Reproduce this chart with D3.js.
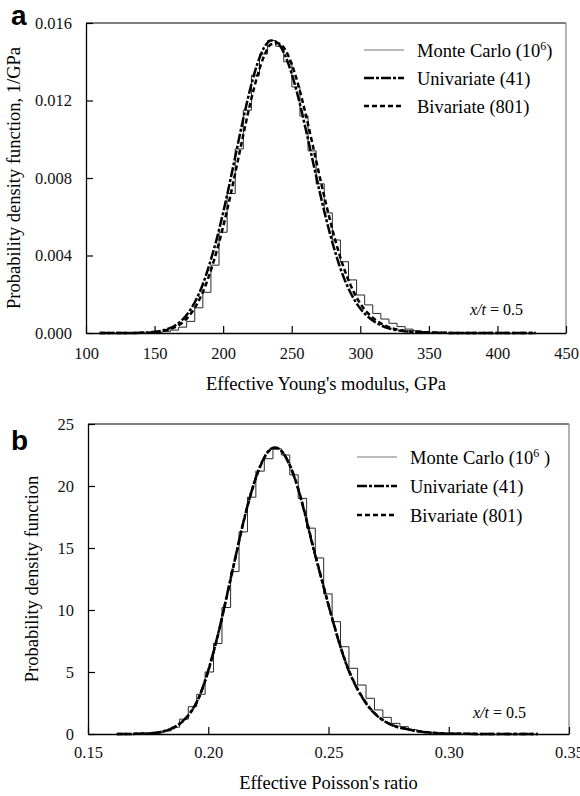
<!DOCTYPE html>
<html>
<head>
<meta charset="utf-8">
<script src="https://cdn.jsdelivr.net/npm/d3@7"></script>
<style>
  body { margin: 0; background: #fff; }
  svg { display: block; }
</style>
</head>
<body>
<svg width="580" height="796"></svg>
<script>
// ---- panel a : effective Young's modulus ----
var youngX = [110, 120, 130, 140, 150, 155, 160, 165, 170, 175, 180, 185, 190, 195, 200, 205, 210, 215, 220, 225, 230, 235,
  240, 245, 250, 255, 260, 265, 270, 275, 280, 285, 290, 295, 300, 305, 310, 315, 320, 325, 330, 340, 350, 360, 380, 400, 428];
var youngUni = [0, 0, 0.000002, 0.000012, 0.00006, 0.00012, 0.00022, 0.00039, 0.00066, 0.00108, 0.00168, 0.00248, 0.00354,
  0.00477, 0.00621, 0.00781, 0.0095, 0.01116, 0.01267, 0.0139, 0.01475, 0.0151, 0.01495, 0.01436, 0.01338, 0.0121, 0.01059,
  0.009, 0.00741, 0.00592, 0.00459, 0.00344, 0.00251, 0.0018, 0.00126, 0.00088, 0.0006, 0.0004, 0.00026, 0.00017, 0.00011,
  0.00005, 0.00002, 0.00001, 0, 0, 0];
var youngBiv = [0, 0, 0.000001, 0.000008, 0.00004, 0.00009, 0.00017, 0.0003, 0.00052, 0.00087, 0.00138, 0.00208, 0.00301,
  0.00415, 0.00549, 0.007, 0.00865, 0.01033, 0.01192, 0.01328, 0.01432, 0.0149, 0.01495, 0.01465, 0.01387, 0.01275, 0.01135,
  0.0098, 0.0082, 0.00667, 0.00525, 0.004, 0.00297, 0.00215, 0.00152, 0.00106, 0.00074, 0.0005, 0.00033, 0.00021, 0.00014,
  0.00006, 0.00003, 0.00001, 0, 0, 0];
var youngBinEdges = [149.8, 155.7, 161.6, 167.5, 173.4, 179.3, 185.2, 191.1, 197.0, 202.9, 208.8, 214.7, 220.6, 226.5, 232.4,
  238.3, 244.2, 250.1, 256.0, 261.9, 267.8, 273.7, 279.6, 285.5, 291.4, 297.3, 303.2, 309.1, 315.0, 320.9, 326.8, 332.7,
  338.6, 344.5, 350.4, 356.3, 362.2];
var youngBinValues = [0.00003, 0.00007, 0.00015, 0.0003, 0.0006, 0.0013, 0.0021, 0.0035, 0.0052, 0.0072, 0.0095, 0.0115,
  0.0133, 0.0144, 0.0151, 0.0148, 0.0140, 0.0127, 0.0112, 0.0094, 0.0077, 0.0062, 0.0048, 0.00368, 0.00274, 0.00196,
  0.00145, 0.00101, 0.00072, 0.0005, 0.00033, 0.0002, 0.00012, 0.00007, 0.00004, 0.00002];
var youngTicksX = [100, 150, 200, 250, 300, 350, 400, 450];
var youngTicksY = [0, 0.004, 0.008, 0.012, 0.016];

// ---- panel b : effective Poisson's ratio ----
var poissonX = [0.162, 0.166, 0.170, 0.174, 0.178, 0.181, 0.184, 0.187, 0.190, 0.193, 0.196, 0.199, 0.202, 0.205, 0.208,
  0.211, 0.214, 0.217, 0.220, 0.223, 0.226, 0.228, 0.231, 0.234, 0.237, 0.240, 0.243, 0.246, 0.249, 0.252, 0.255, 0.258,
  0.261, 0.264, 0.267, 0.270, 0.274, 0.278, 0.282, 0.286, 0.290, 0.295, 0.300, 0.310, 0.320, 0.337];
var poissonUni = [0, 0.005, 0.015, 0.04, 0.10, 0.2, 0.38, 0.68, 1.15, 1.85, 2.9, 4.5, 6.5, 8.8, 11.4, 14.0, 16.6, 18.9,
  20.8, 22.2, 23.0, 23.1, 22.7, 21.6, 20.0, 17.9, 15.5, 13.3, 11.1, 8.98, 7.0, 5.3, 4.0, 2.95, 2.1, 1.5, 0.95, 0.6, 0.42,
  0.26, 0.15, 0.07, 0.03, 0.01, 0.003, 0];
var poissonBiv = [0, 0.004, 0.013, 0.036, 0.09, 0.19, 0.36, 0.66, 1.12, 1.82, 2.88, 4.45, 6.45, 8.75, 11.35, 13.95, 16.55,
  18.85, 20.75, 22.15, 22.95, 23.05, 22.7, 21.65, 20.05, 17.95, 15.6, 13.35, 11.15, 9.0, 7.05, 5.35, 4.05, 3.0, 2.15, 1.52,
  0.97, 0.62, 0.43, 0.27, 0.16, 0.08, 0.035, 0.012, 0.004, 0];
var poissonBinEdges = [0.1776, 0.1811, 0.1846, 0.1881, 0.1917, 0.1952, 0.1987, 0.2022, 0.2057, 0.2093, 0.2128, 0.2163,
  0.2198, 0.2233, 0.2269, 0.2304, 0.2339, 0.2374, 0.2409, 0.2445, 0.2480, 0.2515, 0.2550, 0.2585, 0.2621, 0.2656, 0.2691,
  0.2726, 0.2761, 0.2797, 0.2832, 0.2867, 0.2902, 0.2937, 0.2973, 0.3008, 0.3043];
var poissonBinValues = [0.1, 0.25, 0.55, 1.2, 2.2, 3.2, 5.0, 7.3, 10.2, 13.1, 16.3, 19.1, 21.2, 22.2, 23.0, 22.5, 20.9,
  19.0, 16.6, 14.2, 11.3, 9.06, 7.04, 5.3, 3.95, 2.88, 1.94, 1.34, 0.86, 0.59, 0.35, 0.2, 0.11, 0.06, 0.03, 0.01];
var poissonTicksX = [0.15, 0.20, 0.25, 0.30, 0.35];
var poissonTicksY = [0, 5, 10, 15, 20, 25];

var legendNames = ["Monte Carlo (10", "Univariate (41)", "Bivariate (801)"];

document.addEventListener("DOMContentLoaded", function () {

  var serif = '"Liberation Serif", "Times New Roman", Times, serif';
  var svg = d3.select("svg");

  drawPanel({
    letter: "a", letterY: 25,
    left: 86, right: 566, top: 23, bottom: 333,
    xDomain: [100, 450], yDomain: [0, 0.016],
    xTicks: youngTicksX, yTicks: youngTicksY,
    xFormat: d3.format("d"), yFormat: d3.format(".3f"),
    xPad: 14, yPad: 14,
    xs: youngX, uni: youngUni, biv: youngBiv,
    edges: youngBinEdges, bins: youngBinValues,
    xTitle: "Effective Young's modulus, GPa", xTitleY: 390,
    yTitle: "Probability density function, 1/GPa", yTitleX: 20,
    legX: 364, legY: 50, legGap: 28, supTail: ")",
    noteX: 470, noteY: 315
  });

  drawPanel({
    letter: "b", letterY: 450,
    left: 88, right: 569, top: 424, bottom: 734,
    xDomain: [0.15, 0.35], yDomain: [0, 25],
    xTicks: poissonTicksX, yTicks: poissonTicksY,
    xFormat: d3.format(".2f"), yFormat: d3.format("d"),
    xPad: 12.5, yPad: 14,
    xs: poissonX, uni: poissonUni, biv: poissonBiv,
    edges: poissonBinEdges, bins: poissonBinValues,
    xTitle: "Effective Poisson's ratio", xTitleY: 789,
    yTitle: "Probability density function", yTitleX: 38,
    legX: 357, legY: 457, legGap: 29, supTail: " )",
    noteX: 473, noteY: 718
  });

  function drawPanel(p) {
    var x = d3.scaleLinear().domain(p.xDomain).range([p.left, p.right]);
    var y = d3.scaleLinear().domain(p.yDomain).range([p.bottom, p.top]);
    var g = svg.append("g");

    // top and right frame
    g.append("line")
      .attr("x1", p.left).attr("x2", p.right)
      .attr("y1", p.top).attr("y2", p.top)
      .attr("stroke", "#000").attr("stroke-width", 1.2);
    g.append("line")
      .attr("x1", p.right).attr("x2", p.right)
      .attr("y1", p.top).attr("y2", p.bottom)
      .attr("stroke", "#808080").attr("stroke-width", 1.2);

    // Monte Carlo histogram as a step outline
    var steps = [[p.edges[0], 0]];
    p.bins.forEach(function (v, i) {
      steps.push([p.edges[i], v]);
    });
    steps.push([p.edges[p.edges.length - 1], 0]);

    g.append("path")
      .datum(steps)
      .attr("fill", "none")
      .attr("stroke", "#2a2a2a")
      .attr("stroke-width", 1)
      .attr("d", d3.line()
        .x(function (d) { return x(d[0]) })
        .y(function (d) { return y(d[1]) })
        .curve(d3.curveStepAfter));

    var curve = d3.line()
      .x(function (d) { return x(d[0]) })
      .y(function (d) { return y(d[1]) })
      .curve(d3.curveMonotoneX);

    g.append("path")
      .datum(p.xs.map(function (v, i) { return [v, p.biv[i]] }))
      .attr("fill", "none")
      .attr("stroke", "#000")
      .attr("stroke-width", 2.5)
      .attr("stroke-dasharray", "5,3")
      .attr("d", curve);

    g.append("path")
      .datum(p.xs.map(function (v, i) { return [v, p.uni[i]] }))
      .attr("fill", "none")
      .attr("stroke", "#000")
      .attr("stroke-width", 2.5)
      .attr("stroke-dasharray", "10,2,3,2")
      .attr("d", curve);

    // axes with inward ticks
    var gx = g.append("g")
      .attr("transform", "translate(0," + p.bottom + ")")
      .call(d3.axisBottom(x)
        .tickValues(p.xTicks)
        .tickFormat(p.xFormat)
        .tickSizeInner(-7)
        .tickSizeOuter(0)
        .tickPadding(p.xPad));

    var gy = g.append("g")
      .attr("transform", "translate(" + p.left + ",0)")
      .call(d3.axisLeft(y)
        .tickValues(p.yTicks)
        .tickFormat(p.yFormat)
        .tickSizeInner(-7)
        .tickSizeOuter(0)
        .tickPadding(p.yPad));

    [gx, gy].forEach(function (a) {
      a.attr("font-family", serif).attr("font-size", 16.5);
      a.select(".domain").attr("stroke-width", 1.3);
      a.selectAll(".tick line").attr("stroke-width", 1.2);
      a.selectAll(".tick text")
        .attr("fill", "#111")
        .style("font-family", serif)
        .style("font-size", "16.5px");
    });

    // axis titles
    g.append("text")
      .attr("x", (p.left + p.right) / 2)
      .attr("y", p.xTitleY)
      .attr("text-anchor", "middle")
      .attr("font-family", serif)
      .attr("font-size", 18.5)
      .text(p.xTitle);

    g.append("text")
      .attr("transform", "translate(" + p.yTitleX + "," + ((p.top + p.bottom) / 2) + ") rotate(-90)")
      .attr("text-anchor", "middle")
      .attr("font-family", serif)
      .attr("font-size", 18.5)
      .text(p.yTitle);

    // panel letter
    g.append("text")
      .attr("x", 11)
      .attr("y", p.letterY)
      .attr("font-family", '"Liberation Sans", Arial, sans-serif')
      .attr("font-weight", "bold")
      .attr("font-size", 28)
      .text(p.letter);

    // legend
    var styles = [
      { stroke: "#777", width: 1.2, dash: null },
      { stroke: "#000", width: 2.5, dash: "10,2,3,2" },
      { stroke: "#000", width: 2.5, dash: "5,3" }
    ];
    legendNames.forEach(function (name, i) {
      var ly = p.legY + i * p.legGap;
      g.append("line")
        .attr("x1", p.legX).attr("x2", p.legX + 40)
        .attr("y1", ly).attr("y2", ly)
        .attr("stroke", styles[i].stroke)
        .attr("stroke-width", styles[i].width)
        .attr("stroke-dasharray", styles[i].dash);
      var t = g.append("text")
        .attr("x", p.legX + 53)
        .attr("y", ly + 6.5)
        .attr("font-family", serif)
        .attr("font-size", 18.5);
      t.append("tspan").text(name);
      if (i === 0) {
        t.append("tspan").attr("dy", -7).attr("font-size", 12).text("6");
        t.append("tspan").attr("dy", 7).text(p.supTail);
      }
    });

    // position note
    var note = g.append("text")
      .attr("x", p.noteX)
      .attr("y", p.noteY)
      .attr("font-family", serif)
      .attr("font-size", 16);
    note.append("tspan").attr("font-style", "italic").text("x/t");
    note.append("tspan").text(" = 0.5");
  }

});
</script>
</body>
</html>
